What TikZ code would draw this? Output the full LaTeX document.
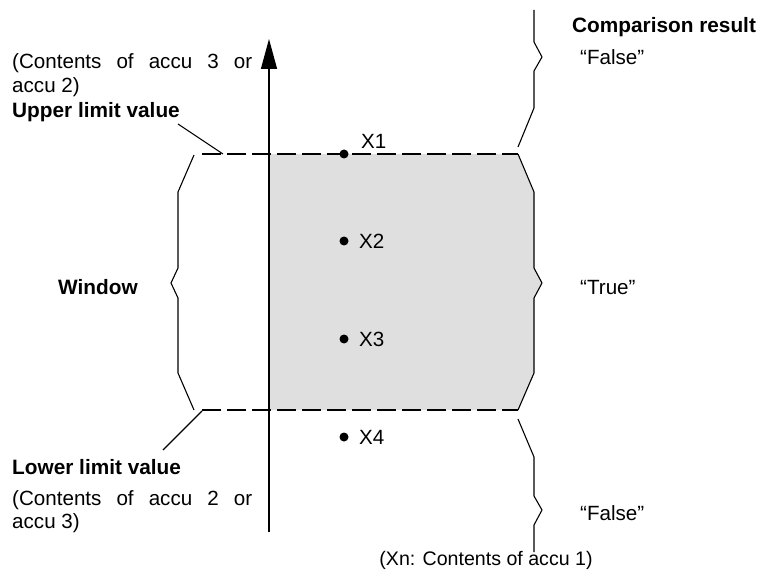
\documentclass[tikz,border=0pt]{standalone}
\usepackage{fontspec}
\setmainfont{Liberation Sans}
\usetikzlibrary{arrows.meta}
\begin{document}
\begin{tikzpicture}[x=1pt,y=-1pt,
  txt/.style={anchor=base west,inner sep=0pt,font=\fontsize{20.6}{24}\selectfont},
  btxt/.style={txt,font=\fontsize{20.8}{24}\selectfont\bfseries},
  ln/.style={line width=1.1pt},
  limitline/.style={ln,dash pattern=on 19pt off 6pt},
  dotnode/.style={circle,fill=black,inner sep=0pt,minimum size=9pt}]
\useasboundingbox (0,0) rectangle (763,572);
% window area
\fill[gray!25] (270,154) -- (518,154) -- (534,192) -- (534,268) -- (542,283) -- (534,298) -- (534,373) -- (518,410) -- (270,410) -- cycle;
% braces right
\draw[ln] (534,10) -- (534,42) -- (542,57) -- (534,71) -- (534,108) -- (518,147);
\draw[ln] (518,154) -- (534,192) -- (534,268) -- (542,283) -- (534,298) -- (534,373) -- (518,410);
\draw[ln] (518,419) -- (534,457) -- (534,496) -- (542,510) -- (534,525) -- (534,552);
% brace left
\draw[ln] (194,155) -- (178,192) -- (178,268) -- (171,283) -- (178,298) -- (178,373) -- (194,410);
% limit lines
\coordinate (ul) at (202,154);
\coordinate (ur) at (518,154);
\coordinate (ll) at (202,410);
\coordinate (lr) at (518,410);
\draw[limitline] (ul) -- (ur);
\draw[limitline] (ll) -- (lr);
% axis
\coordinate (axb) at (269,532);
\coordinate (axt) at (269,39);
\draw[line width=1.3pt,-{Triangle[length=30pt,width=16pt]}] (axb) -- (axt);
% texts left upper
\node[txt] (c3) at (12,69) {\makebox[240pt][s]{(Contents of accu 3 or}};
\node[txt] (a2) at (12,93) {accu 2)};
\node[btxt] (ulv) at (12,118) {Upper limit value};
\coordinate (ulp) at (223,154);
\draw[ln] (178,124) -- (ulp);
% lower
\node[btxt] (llv) at (12,474) {Lower limit value};
\node[txt] (c2) at (12,505) {\makebox[240pt][s]{(Contents of accu 2 or}};
\node[txt] (a3) at (12,528) {accu 3)};
\coordinate (llp) at (202,411);
\draw[ln] (llp) -- (163,450);
% window
\node[btxt] (win) at (58,294) {Window};
% comparison
\node[btxt] (cr) at (572,33) {Comparison result};
\node[txt] (f1) at (580,65) {“False”};
\node[txt] (tr) at (580,294) {“True”};
\node[txt] (f2) at (580,520) {“False”};
% points
\node[dotnode] (x1) at (344,154) {};
\node[dotnode] (x2) at (344,241) {};
\node[dotnode] (x3) at (344,339) {};
\node[dotnode] (x4) at (344,437) {};
\node[txt] (lx1) at (361,149) {X1};
\node[txt,anchor=west] (lx2) at (359,241) {X2};
\node[txt,anchor=west] (lx3) at (359,339) {X3};
\node[txt,anchor=west] (lx4) at (359,437) {X4};
% axis caption
\node[txt,anchor=base,font=\fontsize{19.6}{24}\selectfont] (xn) at (486,565) {(Xn: Contents of accu 1)};
\end{tikzpicture}
\end{document}
